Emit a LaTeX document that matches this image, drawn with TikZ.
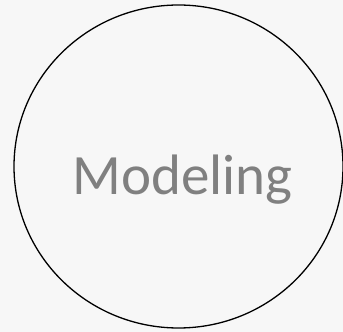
\documentclass[tikz,border=0pt]{standalone}
\usepackage{fontspec}
\usetikzlibrary{shapes.geometric}
\setmainfont{Carlito}
\definecolor{bg}{RGB}{247,247,247}
\definecolor{txt}{RGB}{128,128,128}
\begin{document}
\begin{tikzpicture}[x=1pt,y=1pt,
  ring/.style={draw=black,line width=1.3pt},
  lbl/.style={text=txt,font=\fontsize{57}{60}\selectfont,inner sep=0pt,anchor=base}]
\fill[bg] (0,0) rectangle (343,332);
\useasboundingbox (0,0) rectangle (343,332);
\node[ring,ellipse,minimum width=329pt,minimum height=323pt,inner sep=0pt] (c) at (178.5,165.5) {};
\node[lbl] (t) at (182.5,137) {Modeling};
\end{tikzpicture}
\end{document}
